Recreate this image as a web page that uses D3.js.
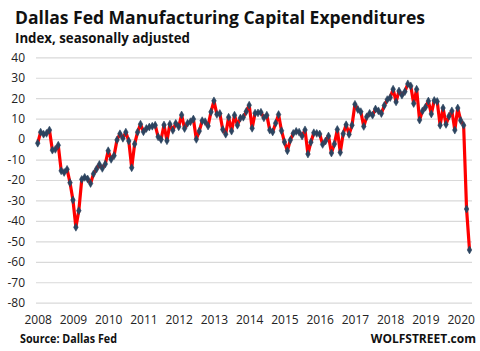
<!DOCTYPE html>
<html>
<head>
<meta charset="utf-8">
<script src="https://cdn.jsdelivr.net/npm/d3@7"></script>
<style>
  body { margin: 0; background: #fff; }
  text { font-family: "Open Sans", "Liberation Sans", sans-serif; }
</style>
</head>
<body>
<svg id="chart" width="480" height="351"></svg>
<script>
// monthly index, Jan 2008 .. Apr 2020
const startYear = 2008;
const capex = [
  -2, 3.4, 2.4, 2.8, 4.4, -5.4, -5, -3, -15.5, -16.3, -14.8, -21.3,
  -29.8, -43.1, -35, -19.7, -18.7, -19.5, -21.7, -17, -14.7, -12.4, -14.3, -12.2,
  -5.7, -9.9, -8.1, -0.4, 2.6, 0.4, 3.4, -0.9, -14, -2.4, 3.4, 7.3,
  3.6, 5.2, 5.9, 6.3, 6.8, 1.1, -0.2, 6.9, -0.8, 7.3, 4.3, 7.7,
  6, 11.8, 5.2, 7.7, 8.5, 9.8, -0.1, 3.9, 9, 8.5, 6.4, 13.3,
  18.7, 12.1, 12.5, 4.7, 2.4, 10.7, 3.9, 11.7, 6.8, 10.3, 10.7, 13.5,
  16.6, 5.3, 12.7, 12.8, 13.1, 10.4, 11.7, 4.4, 3.5, 7.8, 12, 4.1,
  -1.4, -5.7, -0.5, 2.8, 3.8, 3.4, 1.5, 4.5, -7.3, -1.5, 3.1, 2.8,
  2.5, -2.6, -0.9, 1.5, -6.8, -2.4, 4.7, -6.5, 2.6, 7, 2.3, 6.8,
  17, 14.5, 13.4, 6.2, 10.9, 12.6, 11.7, 14.7, 13.8, 12.5, 16.4, 19.3,
  20.3, 24.4, 18.2, 23.5, 21.5, 23.2, 27, 26, 17.4, 24.4, 9.3, 13.8,
  15.6, 18.6, 12.3, 18.9, 18.4, 6.8, 15.2, 7.2, 11.2, 13.8, 4.4, 15.2,
  9.1, 6.8, -34.2, -54.2
];
const yearLabels = ["2008", "2009", "2010", "2011", "2012", "2013", "2014",
  "2015", "2016", "2017", "2018", "2019", "2020"];
const yTicks = [40, 30, 20, 10, 0, -10, -20, -30, -40, -50, -60, -70, -80];

const svg = d3.select("#chart");

const x = d3.scaleLinear()
  .domain([0, capex.length - 1])
  .range([37.7, 469.5]);

const y = d3.scaleLinear()
  .domain([-80, 40])
  .range([302.7, 57.3]);

// gridlines + y labels
const yAxis = svg.append("g")
  .attr("transform", "translate(36,0)")
  .call(d3.axisLeft(y)
    .tickValues(yTicks)
    .tickSize(-436)
    .tickPadding(11)
    .tickFormat(d => d < 0 ? "-" + Math.abs(d) : d));

yAxis.select(".domain").remove();
yAxis.selectAll(".tick line")
  .attr("stroke", "#d9d9d9")
  .attr("stroke-width", 1.2);
yAxis.selectAll(".tick text")
  .attr("fill", "#222")
  .style("font-size", "12px")
  .style("font-family", "'Open Sans', sans-serif");

// year labels at each January
const xAxis = svg.append("g")
  .attr("transform", "translate(0,304)")
  .call(d3.axisBottom(x)
    .tickValues(yearLabels.map((d, i) => i * 12))
    .tickSize(0)
    .tickPadding(11)
    .tickFormat((d, i) => yearLabels[i]));

xAxis.select(".domain").remove();
xAxis.selectAll(".tick text")
  .attr("fill", "#222")
  .style("font-size", "12px")
  .style("font-family", "'Open Sans', sans-serif");

// line
const line = d3.line()
  .x((d, i) => x(i))
  .y(d => y(d));

svg.append("path")
  .datum(capex)
  .attr("fill", "none")
  .attr("stroke", "#ff0000")
  .attr("stroke-width", 3.2)
  .attr("stroke-linejoin", "round")
  .attr("d", line);

svg.selectAll(".marker")
  .data(capex)
  .enter()
  .append("path")
  .attr("class", "marker")
  .attr("transform", (d, i) => `translate(${x(i)},${y(d)})`)
  .attr("d", d3.symbol().type(d3.symbolDiamond).size(18))
  .attr("fill", "#2b4460")
  .attr("stroke", "#2b4460")
  .attr("stroke-width", 0.6);

// titles
svg.append("text")
  .attr("x", 15)
  .attr("y", 24)
  .attr("font-size", "18px")
  .attr("font-weight", "bold")
  .attr("fill", "#111")
  .attr("textLength", 410)
  .attr("lengthAdjust", "spacingAndGlyphs")
  .text("Dallas Fed Manufacturing  Capital Expenditures");

svg.append("text")
  .attr("x", 15)
  .attr("y", 43)
  .attr("font-size", "14px")
  .attr("font-weight", "bold")
  .attr("fill", "#111")
  .attr("textLength", 175)
  .attr("lengthAdjust", "spacingAndGlyphs")
  .text("Index, seasonally adjusted");

svg.append("text")
  .attr("x", 20)
  .attr("y", 343)
  .attr("font-size", "12px")
  .attr("font-weight", "bold")
  .attr("fill", "#111")
  .attr("textLength", 97)
  .attr("lengthAdjust", "spacingAndGlyphs")
  .text("Source: Dallas Fed");

svg.append("text")
  .attr("x", 476)
  .attr("y", 343)
  .attr("text-anchor", "end")
  .attr("font-size", "12px")
  .attr("font-weight", "bold")
  .attr("fill", "#111")
  .text("WOLFSTREET.com");
</script>
</body>
</html>
